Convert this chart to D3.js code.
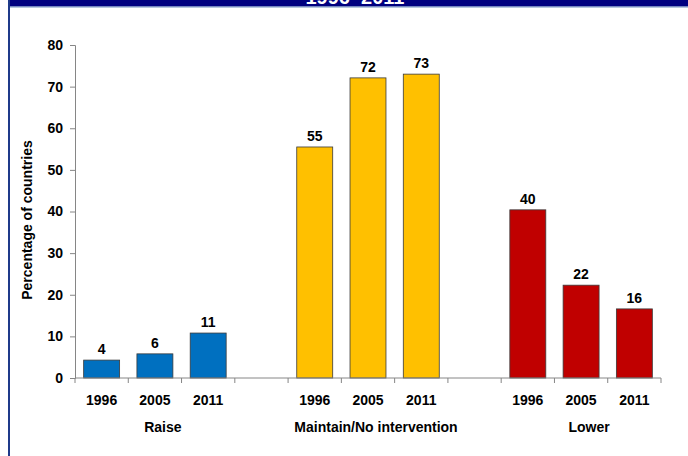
<!DOCTYPE html>
<html>
<head>
<meta charset="utf-8">
<script src="https://cdn.jsdelivr.net/npm/d3@7"></script>
<style>
  html, body { margin: 0; padding: 0; background: #fff; }
  svg { display: block; }
  text { font-family: "Liberation Sans", Arial, sans-serif; font-weight: bold; }
</style>
</head>
<body>
<svg id="chart" width="688" height="456"></svg>
<script>
// ---- data ----
const titleText = "1996\u20132011";
const yAxisTitle = "Percentage of countries";
const groups = ["Raise", "Maintain/No intervention", "Lower"];
const years = ["1996", "2005", "2011"];
const raiseValues = [4.3, 5.8, 10.8];
const maintainValues = [55.5, 72.1, 73.0];
const lowerValues = [40.4, 22.3, 16.6];
const raiseLabels = ["4", "6", "11"];
const maintainLabels = ["55", "72", "73"];
const lowerLabels = ["40", "22", "16"];
const groupColors = ["#0070C0", "#FFC000", "#C00000"];
const yTicks = [0, 10, 20, 30, 40, 50, 60, 70, 80];

const seriesValues = [raiseValues, maintainValues, lowerValues];
const seriesLabels = [raiseLabels, maintainLabels, lowerLabels];

// ---- build slots (3 bars per group, one empty slot between groups) ----
const slots = [];
const bars = [];
groups.forEach((g, gi) => {
  years.forEach((yr, yi) => {
    const key = g + "|" + yr;
    slots.push(key);
    bars.push({ key, group: g, gi, year: yr, value: seriesValues[gi][yi], label: seriesLabels[gi][yi] });
  });
  if (gi < groups.length - 1) slots.push("gap" + gi);
});

const svg = d3.select("#chart");
const W = 688, H = 456;
const plot = { left: 75, right: 661, top: 45, bottom: 378 };
const fs = 14;

const x = d3.scaleBand().domain(slots).range([plot.left, plot.right]).padding(0);
const y = d3.scaleLinear().domain([0, 80]).range([plot.bottom, plot.top]);
const barFrac = 0.675;
const bw = x.bandwidth() * barFrac;
const axisColor = "#868686";

// frame: navy top banner and left border
svg.append("rect").attr("x", 8).attr("y", 0).attr("width", W - 8).attr("height", 6.5).attr("fill", "#000080");
svg.append("line").attr("x1", 8).attr("x2", W).attr("y1", 7).attr("y2", 7).attr("stroke", "#6f8fc0").attr("stroke-width", 1);
svg.append("rect").attr("x", 8).attr("y", 0).attr("width", 2).attr("height", H).attr("fill", "#1f3a8a");
svg.append("text").attr("x", 355).attr("y", 4).attr("text-anchor", "middle")
  .attr("fill", "#fff").attr("font-size", 20).text(titleText);

// bars
svg.append("g").selectAll("rect").data(bars).join("rect")
  .attr("x", d => x(d.key) + (x.bandwidth() - bw) / 2)
  .attr("y", d => y(d.value))
  .attr("width", bw)
  .attr("height", d => y(0) - y(d.value))
  .attr("fill", d => groupColors[d.gi])
  .attr("stroke", "#3a3a3a").attr("stroke-width", 0.8);

// value labels
svg.append("g").selectAll("text").data(bars).join("text")
  .attr("x", d => x(d.key) + x.bandwidth() / 2)
  .attr("y", d => y(d.value) - 6)
  .attr("text-anchor", "middle").attr("font-size", fs).attr("fill", "#000")
  .text(d => d.label);

// y axis
const yAxis = svg.append("g").attr("transform", `translate(${plot.left},0)`)
  .call(d3.axisLeft(y).tickValues(yTicks).tickSize(5).tickPadding(7));
yAxis.select(".domain").attr("stroke", axisColor);
yAxis.selectAll(".tick line").attr("stroke", axisColor);
yAxis.selectAll(".tick text").attr("font-size", fs).attr("fill", "#000")
  .attr("font-family", "Liberation Sans, Arial, sans-serif").attr("font-weight", "bold");

// x axis (ticks on slot boundaries)
const boundaries = slots.map(s => x(s)).concat([plot.right]);
svg.append("line").attr("x1", plot.left).attr("x2", plot.right)
  .attr("y1", y(0)).attr("y2", y(0)).attr("stroke", axisColor);
svg.append("g").selectAll("line").data(boundaries).join("line")
  .attr("x1", d => d).attr("x2", d => d)
  .attr("y1", y(0)).attr("y2", y(0) + 5).attr("stroke", axisColor);

// year labels
svg.append("g").selectAll("text").data(bars).join("text")
  .attr("x", d => x(d.key) + x.bandwidth() / 2)
  .attr("y", 405)
  .attr("text-anchor", "middle").attr("font-size", fs).attr("fill", "#000")
  .text(d => d.year);

// group labels
svg.append("g").selectAll("text").data(groups).join("text")
  .attr("x", g => x(g + "|" + years[1]) + x.bandwidth() / 2 + 8)
  .attr("y", 432)
  .attr("text-anchor", "middle").attr("font-size", fs).attr("fill", "#000")
  .text(g => g);

// y axis title
svg.append("text").attr("transform", "translate(32,220) rotate(-90)")
  .attr("text-anchor", "middle").attr("font-size", fs).attr("fill", "#000")
  .text(yAxisTitle);
</script>
</body>
</html>
